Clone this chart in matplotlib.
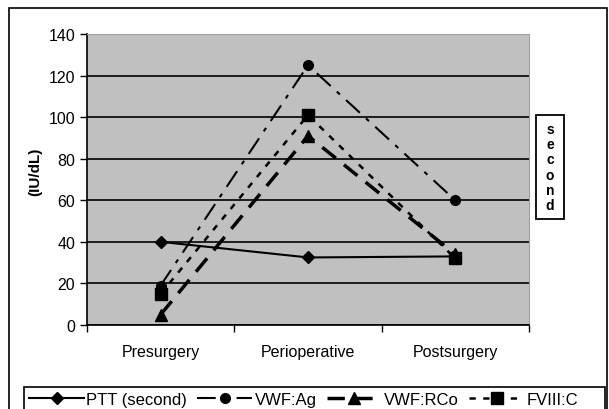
import matplotlib
matplotlib.use("Agg")
import matplotlib.pyplot as plt
from matplotlib.patches import Rectangle

# data
phases = ["Presurgery", "Perioperative", "Postsurgery"]
ptt = [40, 32.5, 33]
vwf_ag = [19, 125, 60]
vwf_rco = [5, 91, 34]
fviii_c = [15, 101, 32]
y_ticks = [0, 20, 40, 60, 80, 100, 120, 140]

plt.rcParams["font.family"] = ["Liberation Sans", "DejaVu Sans"]

fig = plt.figure(figsize=(6.09, 4.10), dpi=100)
ax = fig.add_axes([87 / 609, 1 - 326 / 410, 442 / 609, 291 / 410])
ax.set_facecolor("#c0c0c0")

x = list(range(len(phases)))

ax.plot(x, ptt, color="black", lw=1.5, marker="D", ms=6,
        label="PTT (second)", zorder=3)
ax.plot(x, vwf_ag, color="black", lw=1.5, marker="o", ms=7,
        dashes=(9, 4, 2, 4), label="VWF:Ag", zorder=3)
ax.plot(x, vwf_rco, color="black", lw=2.5, marker="^", ms=9,
        dashes=(5, 3), label="VWF:RCo", zorder=3)
ax.plot(x, fviii_c, color="black", lw=1.8, marker="s", ms=8,
        dashes=(2.5, 3), label="FVIII:C", zorder=3)

ax.set_ylim(0, 140)
ax.set_xlim(-0.5, 2.5)
ax.set_yticks(y_ticks)
ax.yaxis.grid(True, color="black", lw=1.2)
ax.set_axisbelow(True)

ax.set_xticks(x)
ax.set_xticklabels(phases, fontsize=11.5)
ax.set_xticks([-0.5, 0.5, 1.5, 2.5], minor=True)
ax.tick_params(axis="x", which="major", length=0, pad=14)
ax.tick_params(axis="x", which="minor", length=5, direction="out", width=1)
ax.tick_params(axis="y", length=5, direction="out", width=1, labelsize=11.5)

for side in ["top", "right"]:
    ax.spines[side].set_color("#a0a0a0")
    ax.spines[side].set_linewidth(0.8)
for side in ["left", "bottom"]:
    ax.spines[side].set_color("black")
    ax.spines[side].set_linewidth(1.2)

ax.set_ylabel("(IU/dL)", fontsize=11, fontweight="bold")
ax.yaxis.set_label_coords(-0.102, 0.53)

# stacked "second" box on the right
fig.patches.append(Rectangle((536 / 609, 1 - 220 / 410), 28 / 609, 104 / 410,
                             transform=fig.transFigure, fill=True, fc="white",
                             ec="black", lw=1.3))
fig.text(550 / 609, 1 - 168 / 410, "s\ne\nc\no\nn\nd", ha="center", va="center",
         fontsize=10, fontweight="bold", linespacing=1.1)

# outer chart frame
fig.patches.append(Rectangle((9 / 609, -0.1), 598 / 609, 1.1 - 9 / 410,
                             transform=fig.transFigure, fill=False,
                             ec="black", lw=1.2))

# legend box (cut off at the bottom of the picture)
fig.patches.append(Rectangle((24 / 609, -0.05), 581 / 609, 0.05 + 22 / 410,
                             transform=fig.transFigure, fill=False,
                             ec="black", lw=1.2))
leg = fig.legend(loc="upper left", ncol=4, frameon=False,
                 bbox_to_anchor=(29 / 609, 1 - 393 / 410),
                 fontsize=12, handlelength=3.3, handletextpad=0.15,
                 columnspacing=0.6, borderpad=0, borderaxespad=0)

fig.savefig("out.png", dpi=100)
